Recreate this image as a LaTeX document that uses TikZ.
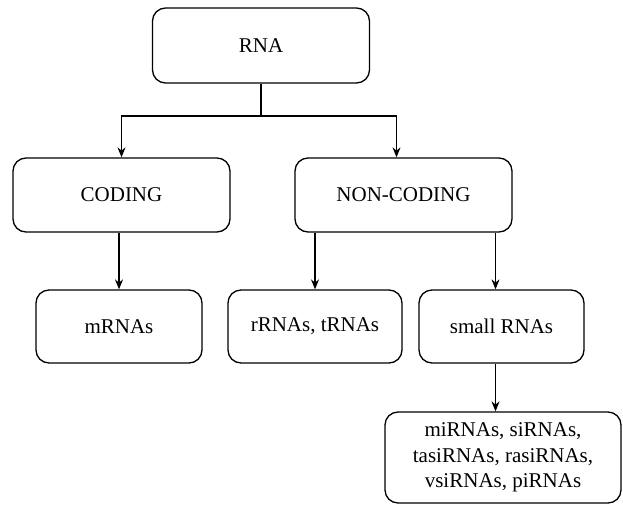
\documentclass[tikz,border=0pt]{standalone}
\usepackage{fontspec}
\setmainfont{Liberation Serif}
\usetikzlibrary{arrows.meta}

\tikzset{
    box/.style={draw, line width=1.3pt, rounded corners=13pt, align=center,
        inner sep=0pt, font=\fontsize{21}{25.7}\selectfont},
    arrow/.style={line width=1.1pt, -{Stealth[length=10pt,width=8pt]}}
}

\begin{document}
\begin{tikzpicture}[x=1pt,y=-1pt]

    % Fix the size of the picture
    \useasboundingbox (0,0) rectangle (623,506);

    % Top box
    \node[box, minimum width=217pt, minimum height=75pt] (rna) at (261,45.5) {RNA};

    % Second level
    \node[box, minimum width=217pt, minimum height=74pt] (coding) at (121.5,195) {CODING};
    \node[box, minimum width=217pt, minimum height=74pt] (noncoding) at (403.5,195) {NON-CODING};

    % Third level
    \node[box, minimum width=166pt, minimum height=73pt] (mrnas) at (119,326.5) {mRNAs};
    \node[box, minimum width=174pt, minimum height=73pt] (rrnas) at (315,326.5) {rRNAs, tRNAs};
    \node[box, minimum width=165pt, minimum height=73pt] (small) at (501.5,326.5) {small RNAs};

    % Bottom box with the kinds of small RNAs
    \node[box, minimum width=236pt, minimum height=91pt] (kinds) at (503,457.5)
        {miRNAs, siRNAs,\\ tasiRNAs, rasiRNAs,\\ vsiRNAs, piRNAs};

    % Split point below RNA
    \coordinate (split) at (rna.south |- 0,116);
    \draw[line width=1.1pt] (rna.south) -- (split);
    \draw[arrow] (split) -| (coding.north);
    \draw[arrow] (split) -| ([xshift=-7pt]noncoding.north);

    % Arrows from the second level
    \draw[arrow] (mrnas.north |- coding.south) -- (mrnas.north);
    \draw[arrow] (rrnas.north |- noncoding.south) -- (rrnas.north);
    \draw[arrow] ([xshift=-6pt]small.north |- noncoding.south) -- ([xshift=-6pt]small.north);

    % Arrow to the bottom box
    \draw[arrow] ([xshift=-6pt]small.south) -- ([xshift=-6pt]small.south |- kinds.north);

\end{tikzpicture}
\end{document}
